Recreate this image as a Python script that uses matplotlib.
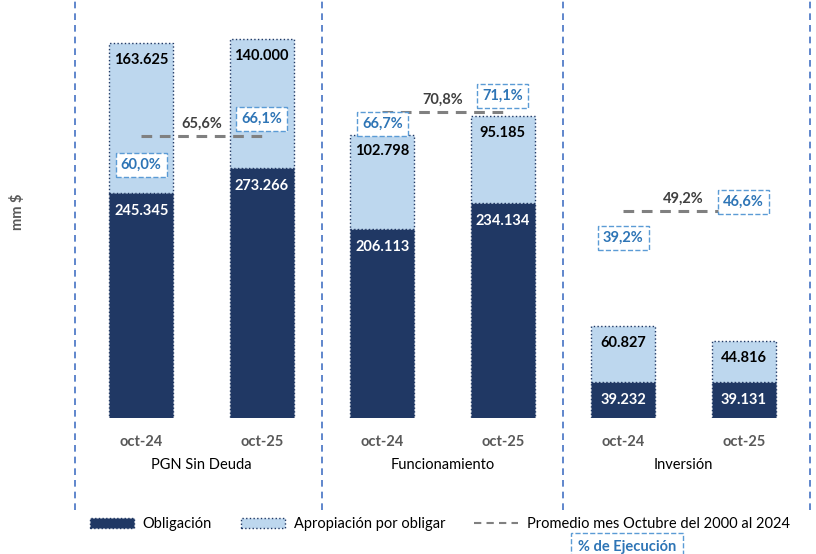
import matplotlib
matplotlib.use("Agg")
import matplotlib.pyplot as plt
from matplotlib.patches import Patch
from matplotlib.lines import Line2D
import matplotlib.transforms as mtransforms

plt.rcParams['font.family'] = ['Lato', 'DejaVu Sans']

# data (mm $)
groups = ["PGN Sin Deuda", "Funcionamiento", "Inversión"]
periods = ["oct-24", "oct-25"]
obligacion = [245345, 273266, 206113, 234134, 39232, 39131]
por_obligar = [163625, 140000, 102798, 95185, 60827, 44816]
pct_ejec = [60.0, 66.1, 66.7, 71.1, 39.2, 46.6]
promedio = [65.6, 70.8, 49.2]

# layout / style
pct_offsets_px = [-3, 15, 7, 15, 19, 21]
dark = "#203864"
light = "#BDD7EE"
pct_color = "#2E75B6"
box_edge = "#5B9BD5"
sep_color = "#4472C4"
grey_txt = "#595959"

def fmt(v):
    return f"{v:,}".replace(",", ".")

def pfmt(v):
    return f"{v:.1f}%".replace(".", ",")

W, H = 816, 554
fig = plt.figure(figsize=(W / 100, H / 100), dpi=100)
ax = fig.add_axes([75 / W, (H - 418) / H, (810 - 75) / W, 418 / H])
ax2 = ax.twinx()

x = list(range(len(obligacion)))
bw = 0.53
ax.bar(x, obligacion, bw, color=dark, edgecolor=dark, linestyle=':', linewidth=1.0)
ax.bar(x, por_obligar, bw, bottom=obligacion, color=light, edgecolor=dark,
       linestyle=':', linewidth=1.0)

ax.set_xlim(-0.55, 5.55)
ax.set_ylim(0, 456000)
ax2.set_ylim(3.94, 95.4)

for i in x:
    ax.annotate(fmt(obligacion[i]), (i, obligacion[i]), xytext=(0, -13),
                textcoords="offset points", ha="center", va="center",
                color="white", fontsize=10.5, fontweight="bold")
    top = obligacion[i] + por_obligar[i]
    ax.annotate(fmt(por_obligar[i]), (i, top), xytext=(0, -12),
                textcoords="offset points", ha="center", va="center",
                color="black", fontsize=10.5, fontweight="bold")
    ax2.annotate(pfmt(pct_ejec[i]), (i, pct_ejec[i]),
                 xytext=(0, pct_offsets_px[i] * 0.72), textcoords="offset points",
                 ha="center", va="center", color=pct_color, fontsize=10.5,
                 fontweight="bold",
                 bbox=dict(boxstyle="square,pad=0.35", fc="white", ec=box_edge,
                           ls="--", lw=1.0))

for g, p in enumerate(promedio):
    xs = [2 * g, 2 * g + 1]
    ax2.plot(xs, [p, p], color="#808080", lw=2.2, ls=(0, (3.5, 2.5)))
    ax2.annotate(pfmt(p), (2 * g + 0.5, p), xytext=(0, 9), textcoords="offset points",
                 ha="center", va="center", color="#404040", fontsize=10.5,
                 fontweight="bold")

# separators
for xs in [-0.55, 1.5, 3.5, 5.55]:
    ax.axvline(xs, ymin=-92 / 418, ymax=1, color=sep_color, lw=1.2,
               ls=(0, (4, 3)), clip_on=False)

ax.set_xticks(x)
ax.set_xticklabels(periods * 3, fontsize=10.5, fontweight="bold", color=grey_txt)
ax.tick_params(axis="x", length=0, pad=12)
ax.set_yticks([])
ax2.set_yticks([])
for a in (ax, ax2):
    for s in a.spines.values():
        s.set_visible(False)

trans = mtransforms.blended_transform_factory(ax.transData, ax.transAxes)
for g, name in enumerate(groups):
    ax.text(2 * g + 0.5, -47 / 418, name, transform=trans, ha="center", va="center",
            fontsize=10.5, color="black")

fig.text(17 / W, 1 - 212 / H, "mm $", rotation=90, ha="center", va="center",
         fontsize=10.5, fontweight="bold", color=grey_txt)

handles = [
    Patch(facecolor=dark, edgecolor=dark, linestyle=':', label="Obligación"),
    Patch(facecolor=light, edgecolor=dark, linestyle=':', label="Apropiación por obligar"),
    Line2D([0], [0], color="#808080", lw=1.5, ls=(0, (3.5, 2.5)),
           label="Promedio mes Octubre del 2000 al 2024"),
]
fig.legend(handles=handles, loc="center", bbox_to_anchor=(440 / W, 1 - 524 / H),
           ncol=3, frameon=False, fontsize=10.5, handlelength=3, columnspacing=2.0,
           handletextpad=0.6)

fig.text(627 / W, 1 - 547 / H, "% de Ejecución", ha="center", va="center",
         fontsize=10.5, fontweight="bold", color=pct_color,
         bbox=dict(boxstyle="square,pad=0.5", fc="white", ec=box_edge, ls="--", lw=1.0))

fig.savefig("out.png", dpi=100)
